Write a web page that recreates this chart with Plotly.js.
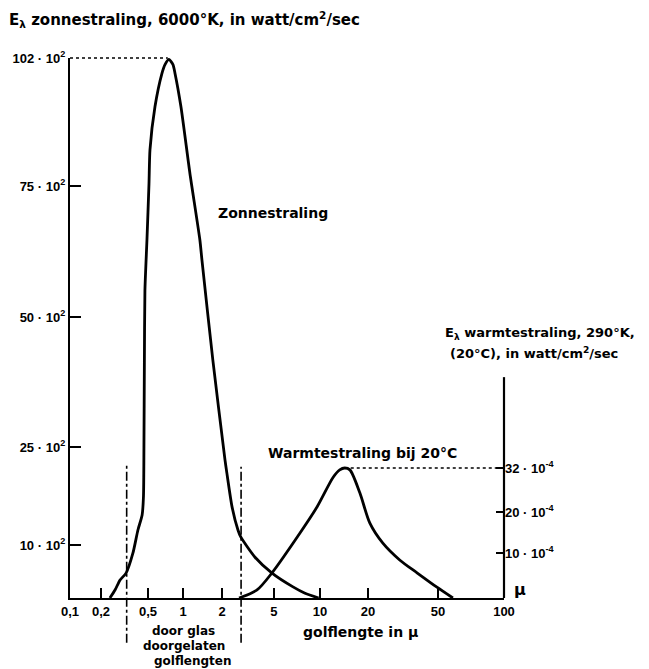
<!DOCTYPE html>
<html>
<head>
<meta charset="utf-8">
<script src="https://cdn.plot.ly/plotly-3.0.1.min.js"></script>
<style>html,body{margin:0;padding:0;background:#fff;}#chart{width:649px;height:669px;}</style>
</head>
<body>
<div id="chart"></div>
<script>
// ---- data ----
const xTickVals = [0.1, 0.2, 0.5, 1, 2, 5, 10, 20, 50, 100];
const xTickText = ['0,1', '0,2', '0,5', '1', '2', '5', '10', '20', '50', '100'];

const leftTickVals = [10, 25, 50, 75, 102];            // x 10^2 watt/cm2/sec
const leftTickText = ['10 · 10<sup>2</sup>', '25 · 10<sup>2</sup>', '50 · 10<sup>2</sup>', '75 · 10<sup>2</sup>', '102 · 10<sup>2</sup>'];

const rightTickVals = [10, 20, 32];                     // x 10^-4 watt/cm2/sec
const rightTickText = ['10 · 10<sup>-4</sup>', '20 · 10<sup>-4</sup>', '32 · 10<sup>-4</sup>'];

// Zonnestraling (6000 K), wavelength in micron, value in 10^2
const zonLambda = [0.238, 0.263, 0.29, 0.326, 0.373, 0.411, 0.446, 0.458, 0.462, 0.466, 0.471, 0.49, 0.51, 0.52, 0.574, 0.66, 0.70, 0.758, 0.82, 0.853, 0.96, 1.13, 1.35, 1.40, 1.70, 2.11, 2.18, 2.39, 2.65, 2.79, 3.58, 4.83, 6.66, 7.98, 9.8];
const zonValue  = [0, 1.5, 3.4, 4.7, 8.5, 12.3, 14.6, 17.5, 25, 41.2, 55, 64.7, 75.5, 82.6, 91.7, 98.8, 100.6, 101.7, 100.6, 98.8, 91.7, 77.7, 64.7, 60.9, 41.7, 23.0, 21.0, 15.8, 12.3, 11.2, 7.7, 4.7, 2.1, 0.9, 0];

// Warmtestraling (290 K), wavelength in micron, value in 10^-4
const warmLambda = [2.70, 3.71, 4.83, 7.4, 9.56, 12.1, 13.3, 14.3, 15.4, 17.8, 20.5, 24.3, 30.4, 38.0, 49.3, 58.5];
const warmValue  = [0, 1.8, 5.6, 14.9, 21.4, 29.5, 31.5, 32, 31.5, 25.2, 17.3, 12.4, 8.4, 5.6, 2.4, 0];

// glass transmission limits (micron) and peaks
const glassLimits = [0.33, 2.8];
const zonPeak = {lambda: 0.74, value: 102};
const warmPeak = {lambda: 14.3, value: 32};

// ---- calibration of the hand-drawn axes (fractions of the axis length) ----
const xAxisFrac = [0, 0.0714, 0.1797, 0.2604, 0.3502, 0.4700, 0.5760, 0.6866, 0.8479, 1];
const leftAnchorV = [0, 10, 25, 50, 75, 102];
const leftAnchorF = [0, 0.0981, 0.2796, 0.5204, 0.763, 1];
const rightAnchorV = [0, 10, 20, 32];
const rightAnchorF = [0, 0.0833, 0.159, 0.2407];

function interp(v, av, af, logScale) {
  const f = logScale ? Math.log : (t => t);
  let i = 0;
  while (i < av.length - 2 && v > av[i + 1]) i++;
  const t = (f(v) - f(av[i])) / (f(av[i + 1]) - f(av[i]));
  return af[i] + t * (af[i + 1] - af[i]);
}
const wx = v => interp(v, xTickVals, xAxisFrac, true);
const wl = v => interp(v, leftAnchorV, leftAnchorF, false);
const wr = v => interp(v, rightAnchorV, rightAnchorF, false);

const FONT = 'Liberation Sans, Arial, sans-serif';
const LFONT = 'DejaVu Sans, Liberation Sans, sans-serif';
const black = '#000';

const traces = [
  {
    x: zonLambda.map(wx), y: zonValue.map(wl), type: 'scatter', mode: 'lines',
    line: {color: black, width: 2.8, shape: 'spline', smoothing: 0.6},
    hoverinfo: 'skip', showlegend: false
  },
  {
    x: warmLambda.map(wx), y: warmValue.map(wr), type: 'scatter', mode: 'lines', yaxis: 'y2',
    line: {color: black, width: 2.8, shape: 'spline', smoothing: 0.8},
    hoverinfo: 'skip', showlegend: false
  }
];

const shapes = [
  // right axis line (only drawn up to ~0.41 of the height)
  {type: 'line', xref: 'paper', yref: 'paper', x0: 1, x1: 1, y0: 0, y1: 0.409, line: {color: black, width: 2.2}},
  // dotted guide to the sun peak
  {type: 'line', xref: 'paper', yref: 'paper', x0: 0, x1: wx(zonPeak.lambda), y0: wl(zonPeak.value), y1: wl(zonPeak.value), line: {color: black, width: 1.3, dash: 'dot'}},
  // dotted guide from the heat peak to the right axis
  {type: 'line', xref: 'paper', yref: 'paper', x0: wx(warmPeak.lambda), x1: 1, y0: wr(warmPeak.value), y1: wr(warmPeak.value), line: {color: black, width: 1.3, dash: 'dot'}},
  // dash-dot glass limits
  {type: 'line', xref: 'paper', yref: 'paper', x0: wx(glassLimits[0]), x1: wx(glassLimits[0]), y0: -0.083, y1: 0.25, line: {color: black, width: 1.6, dash: 'dashdot'}},
  {type: 'line', xref: 'paper', yref: 'paper', x0: wx(glassLimits[1]), x1: wx(glassLimits[1]), y0: -0.083, y1: 0.243, line: {color: black, width: 1.6, dash: 'dashdot'}}
];

const ann = (text, x, y, size, opts) => Object.assign({
  text, x, y, xref: 'paper', yref: 'paper', showarrow: false,
  font: {family: LFONT, size: size, color: black, weight: 'bold'}
}, opts || {});

const annotations = [
  ann('E<sub>λ</sub> zonnestraling, 6000°K, in watt/cm<sup>2</sup>/sec', -0.145, 1.072, 15, {xanchor: 'left', yanchor: 'middle'}),
  ann('Zonnestraling', 0.468, 0.713, 14, {xanchor: 'center', yanchor: 'middle'}),
  ann('Warmtestraling bij 20°C', 0.673, 0.2685, 14, {xanchor: 'center', yanchor: 'middle'}),
  ann('E<sub>λ</sub> warmtestraling, 290°K,', 0.859, 0.4907, 13, {xanchor: 'left', yanchor: 'middle'}),
  ann('(20°C), in watt/cm<sup>2</sup>/sec', 0.87, 0.4537, 13, {xanchor: 'left', yanchor: 'middle'}),
  ann('μ', 1.037, 0.016, 16, {xanchor: 'center', yanchor: 'middle'}),
  ann('golflengte in μ', 0.6705, -0.063, 14, {xanchor: 'center', yanchor: 'middle'}),
  ann('door glas', 0.261, -0.0611, 12, {xanchor: 'center', yanchor: 'middle'}),
  ann('doorgelaten', 0.262, -0.0889, 12, {xanchor: 'center', yanchor: 'middle'}),
  ann('golflengten', 0.283, -0.1167, 12, {xanchor: 'center', yanchor: 'middle'})
];

const tickFont = {family: FONT, size: 13, color: black, weight: 'bold'};

const layout = {
  width: 649, height: 669,
  margin: {l: 70, r: 145, t: 58, b: 71, pad: 0},
  paper_bgcolor: '#fff', plot_bgcolor: '#fff',
  font: {family: FONT, color: black},
  showlegend: false,
  xaxis: {
    range: [0, 1], showgrid: false, zeroline: false, showline: true, linecolor: black, linewidth: 2.2,
    ticks: 'inside', ticklen: 10, tickwidth: 2, tickcolor: black,
    tickmode: 'array', tickvals: xTickVals.map(wx), ticktext: xTickText, tickfont: tickFont, fixedrange: true
  },
  yaxis: {
    range: [0, 1], showgrid: false, zeroline: false, showline: true, linecolor: black, linewidth: 2.2,
    ticks: 'inside', ticklen: 11, tickwidth: 2, tickcolor: black,
    tickmode: 'array', tickvals: leftTickVals.map(wl), ticktext: leftTickText, tickfont: tickFont, fixedrange: true
  },
  yaxis2: {
    overlaying: 'y', side: 'right', anchor: 'x', range: [0, 1],
    showgrid: false, zeroline: false, showline: false,
    ticks: 'inside', ticklen: 8, tickwidth: 2, tickcolor: black,
    tickmode: 'array', tickvals: rightTickVals.map(wr), ticktext: rightTickText, tickfont: tickFont, fixedrange: true
  },
  shapes, annotations
};

Plotly.newPlot('chart', traces, layout, {staticPlot: true, displayModeBar: false});
</script>
</body>
</html>
